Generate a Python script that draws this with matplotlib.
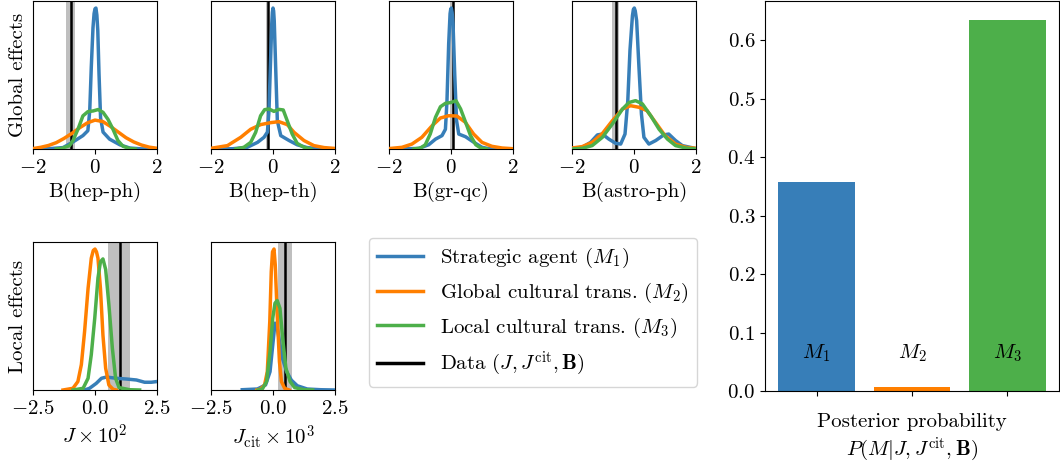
import matplotlib
matplotlib.use("Agg")
import matplotlib.pyplot as plt
from matplotlib.lines import Line2D

plt.rcParams.update({
    "font.family": "serif",
    "font.serif": ["cmr10"],
    "mathtext.fontset": "cm",
    "axes.formatter.use_mathtext": True,
    "axes.unicode_minus": True,
    "font.size": 15,
})

C1, C2, C3 = "#377eb8", "#ff7f00", "#4daf4a"

# density curves, (x, density) pairs, arbitrary units
hep_ph_m1 = [(-2.0, 0.0), (-1.5, 0.002), (-1.03, 0.01), (-0.71, 0.05), (-0.39, 0.095), (-0.23, 0.13),
             (-0.17, 0.27), (-0.12, 0.58), (-0.065, 0.86), (-0.03, 0.96), (0.0, 0.995), (0.03, 1.0),
             (0.06, 0.95), (0.09, 0.84), (0.13, 0.53), (0.18, 0.22), (0.26, 0.12), (0.47, 0.07),
             (0.8, 0.03), (1.12, 0.007), (1.5, 0.001), (2.0, 0.0)]
hep_ph_m2 = [(-2.0, 0.003), (-1.75, 0.012), (-1.5, 0.025), (-1.25, 0.045), (-1.0, 0.075), (-0.75, 0.11),
             (-0.5, 0.15), (-0.25, 0.185), (0.0, 0.205), (0.25, 0.195), (0.5, 0.16), (0.75, 0.12),
             (1.0, 0.08), (1.25, 0.05), (1.5, 0.028), (1.75, 0.013), (2.0, 0.005)]
hep_ph_m3 = [(-1.25, 0.0), (-1.08, 0.004), (-0.82, 0.024), (-0.71, 0.06), (-0.55, 0.14), (-0.39, 0.235),
             (-0.23, 0.265), (-0.06, 0.27), (0.1, 0.28), (0.26, 0.26), (0.42, 0.21), (0.58, 0.14),
             (0.74, 0.06), (0.9, 0.02), (1.12, 0.003), (1.3, 0.0)]

hep_th_m1 = [(-2.0, 0.0), (-1.3, 0.002), (-0.83, 0.012), (-0.5, 0.047), (-0.29, 0.083), (-0.18, 0.12),
             (-0.13, 0.27), (-0.086, 0.58), (-0.04, 0.89), (-0.02, 0.97), (0.0, 1.0), (0.02, 0.98),
             (0.04, 0.91), (0.086, 0.58), (0.14, 0.2), (0.25, 0.095), (0.52, 0.06), (0.78, 0.03),
             (1.1, 0.01), (1.5, 0.002), (2.0, 0.0)]
hep_th_m2 = [(-2.0, 0.005), (-1.47, 0.024), (-1.04, 0.083), (-0.72, 0.14), (-0.4, 0.173), (-0.075, 0.187),
             (0.19, 0.194), (0.46, 0.173), (0.68, 0.118), (1.0, 0.06), (1.32, 0.024), (1.65, 0.01),
             (2.0, 0.004)]
hep_th_m3 = [(-1.2, 0.0), (-0.94, 0.012), (-0.72, 0.047), (-0.56, 0.118), (-0.4, 0.236), (-0.27, 0.279),
             (-0.13, 0.284), (0.03, 0.267), (0.19, 0.281), (0.33, 0.277), (0.46, 0.2), (0.62, 0.106),
             (0.78, 0.04), (1.0, 0.012), (1.22, 0.0)]

gr_qc_m1 = [(-2.0, 0.0), (-1.04, 0.004), (-0.72, 0.03), (-0.5, 0.07), (-0.29, 0.095), (-0.18, 0.14),
            (-0.13, 0.34), (-0.075, 0.745), (-0.03, 0.96), (-0.01, 0.99), (0.01, 1.0), (0.035, 0.97),
            (0.065, 0.89), (0.12, 0.53), (0.18, 0.2), (0.25, 0.106), (0.47, 0.087), (0.74, 0.047),
            (1.0, 0.012), (1.23, 0.002), (2.0, 0.0)]
gr_qc_m2 = [(-2.0, 0.003), (-1.58, 0.012), (-1.26, 0.035), (-0.94, 0.083), (-0.61, 0.165), (-0.34, 0.22),
            (-0.075, 0.236), (0.19, 0.234), (0.46, 0.19), (0.73, 0.106), (1.0, 0.047), (1.32, 0.019),
            (1.65, 0.007), (2.0, 0.002)]
gr_qc_m3 = [(-1.2, 0.0), (-0.98, 0.007), (-0.83, 0.03), (-0.67, 0.106), (-0.5, 0.225), (-0.34, 0.3),
            (-0.18, 0.324), (0.0, 0.33), (0.16, 0.343), (0.31, 0.284), (0.47, 0.19), (0.63, 0.095),
            (0.8, 0.03), (0.96, 0.007), (1.15, 0.0)]

astro_ph_m1 = [(-2.0, 0.003), (-1.67, 0.012), (-1.4, 0.047), (-1.18, 0.1), (-1.02, 0.106), (-0.81, 0.07),
               (-0.59, 0.04), (-0.43, 0.035), (-0.29, 0.106), (-0.2, 0.343), (-0.13, 0.7), (-0.05, 0.946),
               (-0.02, 0.99), (0.01, 1.0), (0.04, 0.98), (0.085, 0.91), (0.16, 0.58), (0.24, 0.248),
               (0.32, 0.083), (0.48, 0.035), (0.7, 0.06), (0.96, 0.1), (1.12, 0.106), (1.34, 0.06),
               (1.56, 0.024), (2.0, 0.003)]
astro_ph_m2 = [(-2.0, 0.007), (-1.67, 0.017), (-1.35, 0.047), (-1.02, 0.11), (-0.7, 0.2), (-0.37, 0.284),
               (-0.11, 0.307), (0.16, 0.296), (0.42, 0.272), (0.69, 0.19), (1.0, 0.095), (1.34, 0.035),
               (1.67, 0.012), (2.0, 0.005)]
astro_ph_m3 = [(-2.0, 0.0), (-1.67, 0.005), (-1.35, 0.024), (-1.02, 0.083), (-0.7, 0.177), (-0.37, 0.284),
               (-0.16, 0.33), (0.05, 0.343), (0.27, 0.32), (0.54, 0.236), (0.81, 0.14), (1.08, 0.07),
               (1.34, 0.024), (1.67, 0.007), (2.0, 0.0)]

j_m1 = [(-0.42, 0.0), (-0.22, 0.012), (0.05, 0.047), (0.26, 0.083), (0.46, 0.092), (0.86, 0.083),
        (1.26, 0.078), (1.67, 0.071), (2.0, 0.055), (2.27, 0.055), (2.5, 0.06)]
j_m2 = [(-1.29, 0.0), (-0.89, 0.012), (-0.69, 0.06), (-0.55, 0.18), (-0.42, 0.415), (-0.28, 0.72),
        (-0.15, 0.935), (-0.07, 0.99), (0.0, 1.0), (0.06, 0.98), (0.12, 0.935), (0.22, 0.72),
        (0.32, 0.39), (0.43, 0.154), (0.56, 0.035), (0.73, 0.005), (0.86, 0.0)]
j_m3 = [(-0.89, 0.0), (-0.48, 0.012), (-0.28, 0.083), (-0.15, 0.25), (-0.01, 0.51), (0.12, 0.795),
        (0.22, 0.91), (0.32, 0.93), (0.43, 0.855), (0.56, 0.605), (0.7, 0.297), (0.83, 0.083),
        (0.97, 0.017), (1.4, 0.002), (1.8, 0.0)]

jcit_m1 = [(-1.24, 0.002), (-0.63, 0.007), (-0.3, 0.036), (-0.12, 0.13), (-0.01, 0.32), (0.08, 0.474),
           (0.15, 0.46), (0.24, 0.367), (0.38, 0.225), (0.55, 0.13), (0.74, 0.07), (0.98, 0.03),
           (1.38, 0.007), (1.92, 0.002), (2.5, 0.0)]
jcit_m2 = [(-0.65, 0.0), (-0.5, 0.007), (-0.34, 0.036), (-0.23, 0.13), (-0.13, 0.486), (-0.07, 0.84),
           (-0.02, 0.98), (0.04, 1.0), (0.09, 0.89), (0.17, 0.533), (0.26, 0.2), (0.34, 0.06),
           (0.47, 0.012), (0.65, 0.0)]
jcit_m3 = [(-0.6, 0.0), (-0.43, 0.007), (-0.26, 0.06), (-0.12, 0.273), (-0.01, 0.51), (0.08, 0.616),
           (0.17, 0.635), (0.28, 0.58), (0.39, 0.367), (0.52, 0.154), (0.69, 0.06), (0.87, 0.017),
           (1.25, 0.002), (1.6, 0.0)]

# observed data value and gray band per panel
data_val = [-0.76, -0.17, 0.08, -0.59, 0.99, 0.48]
data_band = [(-0.92, -0.66), (-0.22, -0.12), (-0.04, 0.1), (-0.7, -0.5), (0.52, 1.42), (0.22, 0.77)]

top_labels = ["B(hep-ph)", "B(hep-th)", "B(gr-qc)", "B(astro-ph)"]
bottom_labels = [r"$J\times10^2$", r"$J_{\rm cit}\times10^3$"]
curves = [
    (hep_ph_m1, hep_ph_m2, hep_ph_m3),
    (hep_th_m1, hep_th_m2, hep_th_m3),
    (gr_qc_m1, gr_qc_m2, gr_qc_m3),
    (astro_ph_m1, astro_ph_m2, astro_ph_m3),
    (j_m1, j_m2, j_m3),
    (jcit_m1, jcit_m2, jcit_m3),
]

models = ["$M_1$", "$M_2$", "$M_3$"]
posterior = [0.358, 0.007, 0.635]
legend_labels = [r"Strategic agent ($M_1$)", r"Global cultural trans. ($M_2$)",
                 r"Local cultural trans. ($M_3$)", r"Data ($J, J^{\rm cit}, \mathbf{B}$)"]

W, H = 1060, 465
fig = plt.figure(figsize=(W / 100, H / 100), dpi=100)

def px_axes(x0, y0, x1, y1):
    return fig.add_axes([x0 / W, 1 - y1 / H, (x1 - x0) / W, (y1 - y0) / H])

boxes = [(33, 1, 157, 149), (211, 1, 335, 149), (389, 1, 513, 149), (572, 1, 696, 149),
         (33, 242, 157, 390), (211, 242, 335, 390)]

for i, box in enumerate(boxes):
    ax = px_axes(*box)
    ax.axvspan(*data_band[i], color="gray", alpha=0.5, lw=0, zorder=1)
    ax.axvline(data_val[i], color="k", lw=1.8, zorder=2)
    ymax = 0
    for c, col in zip(curves[i], [C1, C2, C3]):
        xs = [p[0] for p in c]
        ys = [p[1] for p in c]
        ax.plot(xs, ys, color=col, lw=2.5, zorder=3, solid_joinstyle="round")
        ymax = max(ymax, max(ys))
    ax.set_ylim(0, ymax * 1.05)
    ax.set_yticks([])
    if i < 4:
        ax.set_xlim(-2, 2)
        ax.set_xticks([-2, 0, 2])
        ax.set_xlabel(top_labels[i])
    else:
        ax.set_xlim(-2.5, 2.5)
        ax.set_xticks([-2.5, 0, 2.5])
        ax.set_xlabel(bottom_labels[i - 4])
    if i == 0:
        ax.set_ylabel("Global effects")
    if i == 4:
        ax.set_ylabel("Local effects")

handles = [Line2D([], [], color=c, lw=2.5) for c in [C1, C2, C3, "k"]]
fig.legend(handles, legend_labels, loc="upper left",
           bbox_to_anchor=(369 / W, 1 - 238 / H), handlelength=2.2, borderaxespad=0)

axb = px_axes(765, 1, 1059, 391)
axb.bar(range(3), posterior, color=[C1, C2, C3], width=0.8)
for k, m in enumerate(models):
    axb.text(k, 0.064, m, ha="center", va="center")
axb.set_xticks(range(3))
axb.set_xticklabels(["", "", ""])
axb.set_xlabel("Posterior probability\n" + r"$P(M|J,J^{\rm cit},\mathbf{B})$", labelpad=9)

fig.savefig("out.png", dpi=100)
